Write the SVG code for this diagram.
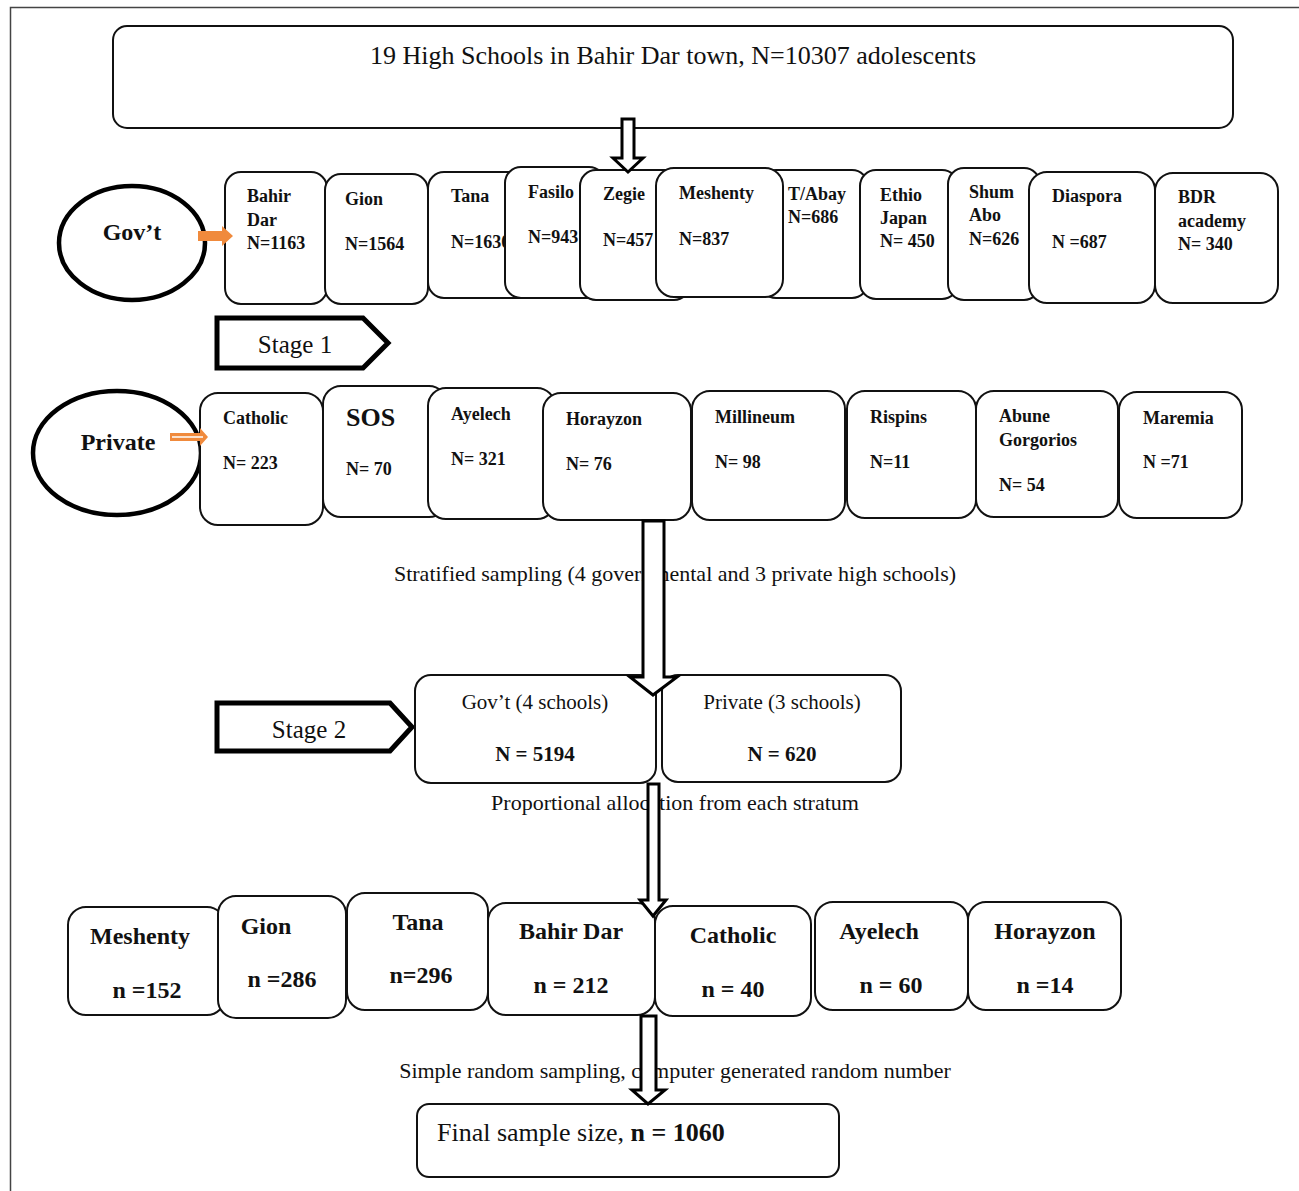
<svg xmlns="http://www.w3.org/2000/svg" width="1299" height="1191" viewBox="0 0 1299 1191">
<style>
.frame{fill:none;stroke:#444;stroke-width:1.5}
.box{fill:#fff;stroke:#111;stroke-width:2}
.ell{fill:#fff;stroke:#000;stroke-width:4.5}
.stage{fill:#fff;stroke:#000;stroke-width:5;stroke-linejoin:miter}
.blk{fill:#fff;stroke:#000;stroke-width:3;stroke-linejoin:miter}
.t{font-family:"Liberation Serif","Times New Roman",serif;fill:#111}
.b{font-weight:bold}
.s18{font-size:18px}
.s24{font-size:24px}
.s22{font-size:22px}
.s25{font-size:25px}
.s26{font-size:26px}
.mid{text-anchor:middle}
.org{fill:#f08a3c}
</style>
<rect class="frame" x="10.5" y="7.5" width="1300" height="1200"/>

<g id="top">
<rect class="box" x="113" y="26" width="1120" height="102" rx="14"/>
<text class="t s26 mid" x="673" y="64">19 High Schools in Bahir Dar town, N=10307 adolescents</text>
</g>

<g id="govt">
<ellipse class="ell" cx="132" cy="243" rx="73" ry="57"/>
<text class="t b s24 mid" x="132" y="240">Gov’t</text>
</g>
<g id="private">
<ellipse class="ell" cx="117" cy="453" rx="84" ry="62"/>
<text class="t b s24 mid" x="118" y="450">Private</text>
</g>

<g id="g-bahirdar"><rect class="box" x="225" y="172" width="102" height="132" rx="16"/>
<text class="t b s18" x="247" y="202">Bahir</text><text class="t b s18" x="247" y="226">Dar</text><text class="t b s18" x="247" y="249">N=1163</text></g>
<g id="g-gion"><rect class="box" x="325" y="174" width="103" height="130" rx="16"/>
<text class="t b s18" x="345" y="205">Gion</text><text class="t b s18" x="345" y="250">N=1564</text></g>
<g id="g-tana"><rect class="box" x="428" y="172" width="107" height="126" rx="16"/>
<text class="t b s18" x="451" y="202">Tana</text><text class="t b s18" x="451" y="248">N=1630</text></g>
<g id="g-fasilo"><rect class="box" x="505" y="167" width="100" height="131" rx="16"/>
<text class="t b s18" x="528" y="198">Fasilo</text><text class="t b s18" x="528" y="243">N=943</text></g>
<g id="g-zegie"><rect class="box" x="580" y="170" width="110" height="130" rx="16"/>
<text class="t b s18" x="603" y="200">Zegie</text><text class="t b s18" x="603" y="246">N=457</text></g>
<g id="g-tabay"><rect class="box" x="760" y="170" width="108" height="128" rx="16"/>
<text class="t b s18" x="788" y="200">T/Abay</text><text class="t b s18" x="788" y="223">N=686</text></g>
<g id="g-ethio"><rect class="box" x="860" y="170" width="98" height="129" rx="16"/>
<text class="t b s18" x="880" y="201">Ethio</text><text class="t b s18" x="880" y="224">Japan</text><text class="t b s18" x="880" y="247">N= 450</text></g>
<g id="g-shum"><rect class="box" x="948" y="168" width="92" height="132" rx="16"/>
<text class="t b s18" x="969" y="198">Shum</text><text class="t b s18" x="969" y="221">Abo</text><text class="t b s18" x="969" y="245">N=626</text></g>
<g id="g-meshenty"><rect class="box" x="656" y="168" width="127" height="129" rx="18"/>
<text class="t b s18" x="679" y="199">Meshenty</text><text class="t b s18" x="679" y="245">N=837</text></g>
<g id="g-diaspora"><rect class="box" x="1029" y="172" width="126" height="131" rx="18"/>
<text class="t b s18" x="1052" y="202">Diaspora</text><text class="t b s18" x="1052" y="248">N =687</text></g>
<g id="g-bdr"><rect class="box" x="1155" y="173" width="123" height="130" rx="18"/>
<text class="t b s18" x="1178" y="203">BDR</text><text class="t b s18" x="1178" y="227">academy</text><text class="t b s18" x="1178" y="250">N= 340</text></g>

<g id="stage1"><polygon class="stage" points="217,318 363,318 388,343 363,368 217,368"/>
<text class="t s25 mid" x="295" y="353">Stage 1</text></g>

<g id="p-catholic"><rect class="box" x="200" y="393" width="123" height="132" rx="18"/>
<text class="t b s18" x="223" y="424">Catholic</text><text class="t b s18" x="223" y="469">N= 223</text></g>
<g id="p-sos"><rect class="box" x="323" y="386" width="124" height="131" rx="18"/>
<text class="t b" style="font-size:26px" x="346" y="426">SOS</text><text class="t b s18" x="346" y="475">N= 70</text></g>
<g id="p-ayelech"><rect class="box" x="428" y="388" width="127" height="131" rx="18"/>
<text class="t b s18" x="451" y="420">Ayelech</text><text class="t b s18" x="451" y="465">N= 321</text></g>
<g id="p-horayzon"><rect class="box" x="543" y="393" width="148" height="127" rx="18"/>
<text class="t b s18" x="566" y="425">Horayzon</text><text class="t b s18" x="566" y="470">N= 76</text></g>
<g id="p-millineum"><rect class="box" x="692" y="391" width="153" height="129" rx="18"/>
<text class="t b s18" x="715" y="423">Millineum</text><text class="t b s18" x="715" y="468">N= 98</text></g>
<g id="p-rispins"><rect class="box" x="847" y="391" width="129" height="127" rx="18"/>
<text class="t b s18" x="870" y="423">Rispins</text><text class="t b s18" x="870" y="468">N=11</text></g>
<g id="p-abune"><rect class="box" x="976" y="391" width="142" height="126" rx="18"/>
<text class="t b s18" x="999" y="422">Abune</text><text class="t b s18" x="999" y="446">Gorgorios</text><text class="t b s18" x="999" y="491">N= 54</text></g>
<g id="p-maremia"><rect class="box" x="1119" y="392" width="123" height="126" rx="18"/>
<text class="t b s18" x="1143" y="424">Maremia</text><text class="t b s18" x="1143" y="468">N =71</text></g>

<text class="t s22 mid" x="675" y="581">Stratified sampling (4 governmental and 3 private high schools)</text>

<g id="stage2"><polygon class="stage" points="217,703 390,703 412,727 390,751 217,751"/>
<text class="t s25 mid" x="309" y="738">Stage 2</text></g>

<g id="govt4"><rect class="box" x="415" y="675" width="241" height="108" rx="16"/>
<text class="t mid" style="font-size:21px" x="535" y="709">Gov’t (4 schools)</text>
<text class="t b mid" style="font-size:21px" x="535" y="761">N = 5194</text></g>
<g id="priv3"><rect class="box" x="662" y="675" width="239" height="107" rx="16"/>
<text class="t mid" style="font-size:21px" x="782" y="709">Private (3 schools)</text>
<text class="t b mid" style="font-size:21px" x="782" y="761">N = 620</text></g>

<text class="t s22 mid" x="675" y="810">Proportional allocation from each stratum</text>

<g id="f-meshenty"><rect class="box" x="68" y="907" width="157" height="108" rx="18"/>
<text class="t b s24 mid" x="140" y="944">Meshenty</text><text class="t b s24 mid" x="147" y="998">n =152</text></g>
<g id="f-gion"><rect class="box" x="218" y="896" width="128" height="122" rx="18"/>
<text class="t b s24 mid" x="266" y="934">Gion</text><text class="t b s24 mid" x="282" y="987">n =286</text></g>
<g id="f-tana"><rect class="box" x="347" y="893" width="141" height="117" rx="18"/>
<text class="t b s24 mid" x="418" y="930">Tana</text><text class="t b s24 mid" x="421" y="983">n=296</text></g>
<g id="f-bahirdar"><rect class="box" x="488" y="903" width="167" height="112" rx="18"/>
<text class="t b s24 mid" x="571" y="939">Bahir Dar</text><text class="t b s24 mid" x="571" y="993">n = 212</text></g>
<g id="f-catholic"><rect class="box" x="655" y="906" width="156" height="110" rx="18"/>
<text class="t b s24 mid" x="733" y="943">Catholic</text><text class="t b s24 mid" x="733" y="997">n = 40</text></g>
<g id="f-ayelech"><rect class="box" x="815" y="902" width="153" height="108" rx="18"/>
<text class="t b s24 mid" x="879" y="939">Ayelech</text><text class="t b s24 mid" x="891" y="993">n = 60</text></g>
<g id="f-horayzon"><rect class="box" x="968" y="902" width="153" height="108" rx="18"/>
<text class="t b s24 mid" x="1045" y="939">Horayzon</text><text class="t b s24 mid" x="1045" y="993">n =14</text></g>

<text class="t s22 mid" x="675" y="1078">Simple random sampling, computer generated random number</text>

<g id="final"><rect class="box" x="417" y="1104" width="422" height="73" rx="12"/>
<text class="t s26" x="437" y="1141">Final sample size, <tspan class="b">n = 1060</tspan></text></g>

<g id="connectors">
<polygon class="blk" points="622,119 634,119 634,158 643,158 628,172 613,158 622,158"/>
<polygon class="blk" points="643,521 664,521 664,677 677,677 653,695 630,677 643,677"/>
<polygon class="blk" points="648,784 659,784 659,900 666,900 653,916 640,900 648,900"/>
<polygon class="blk" points="641,1016 656,1016 656,1090 665,1090 648,1104 632,1090 641,1090"/>
<polygon class="org" points="198,231 222,231 222,226 233,236 222,246 222,241 198,241"/>
<polygon class="org" points="170,433 200,433 200,428 208,437 200,446 200,441 170,441"/>
<line x1="172" y1="437" x2="203" y2="437" stroke="#fff" stroke-width="1.5"/>
</g>
</svg>
